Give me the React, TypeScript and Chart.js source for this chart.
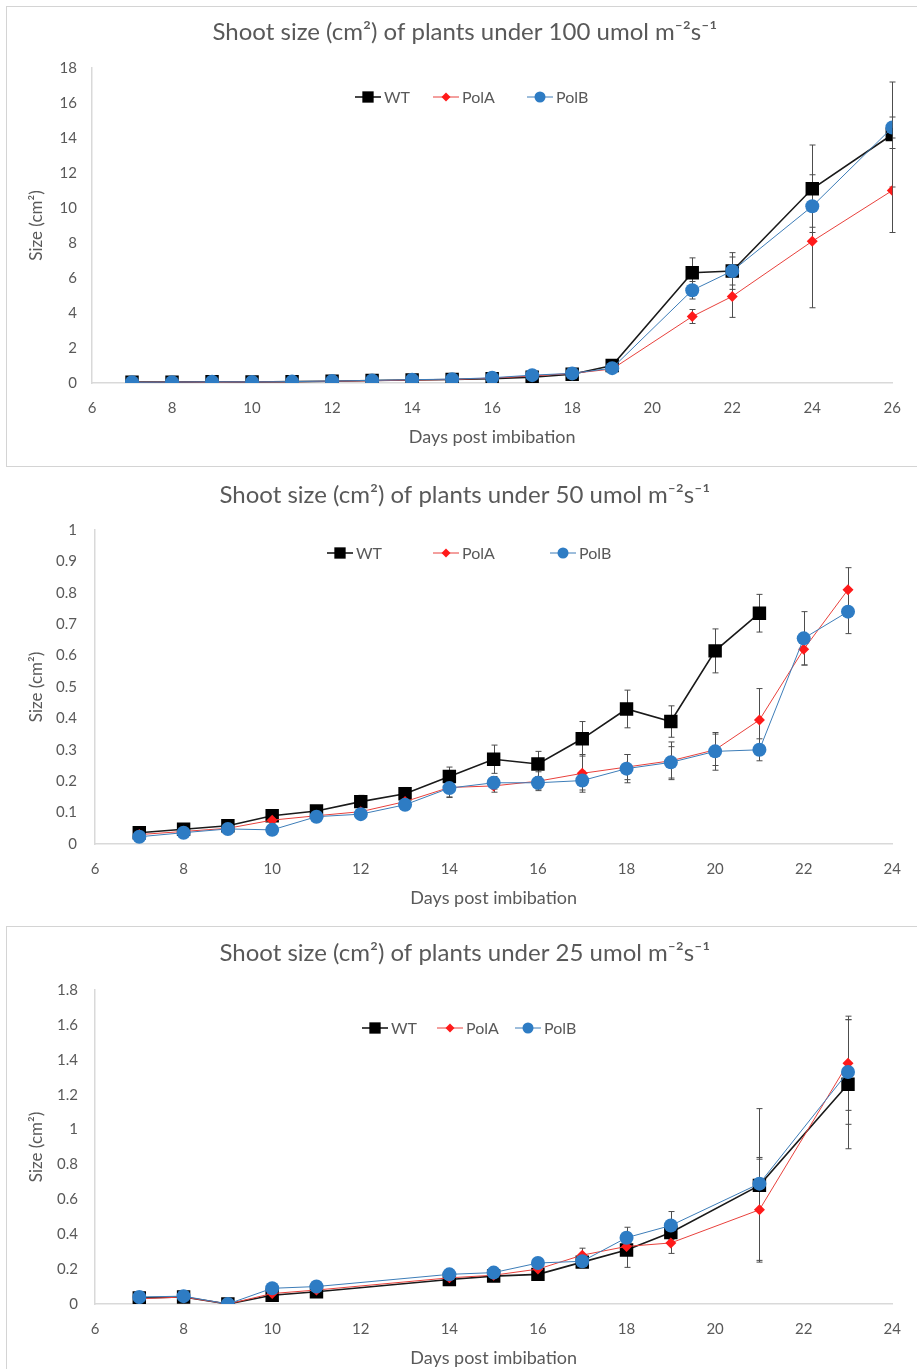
import React, { useEffect, useRef } from 'react';
import { Chart, registerables } from 'chart.js';

Chart.register(...registerables);

const FONT = 'Lato, "Open Sans", sans-serif';
const GRAY = '#595959';
const AXIS = '#d9d9d9';

const SERIES_LABELS = ['WT', 'PolA', 'PolB'];

// ---- Panel 1: 100 umol ----
const title100 = 'Shoot size (cm²) of plants under 100 umol m⁻²s⁻¹';
const days100 = [7, 8, 9, 10, 11, 12, 13, 14, 15, 16, 17, 18, 19, 21, 22, 24, 26];
const wt100 = [0.05, 0.05, 0.07, 0.06, 0.08, 0.1, 0.14, 0.17, 0.2, 0.25, 0.33, 0.5, 1.0, 6.3, 6.4, 11.1, 14.2];
const wt100Err = [0.01, 0.01, 0.01, 0.01, 0.01, 0.02, 0.02, 0.03, 0.03, 0.04, 0.05, 0.08, 0.15, 0.85, 1.05, 2.5, 3.0];
const polA100 = [0.04, 0.05, 0.06, 0.06, 0.07, 0.1, 0.13, 0.17, 0.2, 0.28, 0.4, 0.55, 0.8, 3.8, 4.95, 8.1, 11.0];
const polA100Err = [0.01, 0.01, 0.01, 0.01, 0.01, 0.02, 0.02, 0.03, 0.03, 0.04, 0.05, 0.08, 0.15, 0.4, 1.2, 3.8, 2.4];
const polB100 = [0.04, 0.05, 0.07, 0.06, 0.08, 0.11, 0.15, 0.19, 0.22, 0.3, 0.45, 0.55, 0.85, 5.3, 6.4, 10.1, 14.6];
const polB100Err = [0.01, 0.01, 0.01, 0.01, 0.01, 0.02, 0.02, 0.03, 0.03, 0.04, 0.05, 0.08, 0.1, 0.5, 0.8, 1.2, 0.6];
const xTicks100 = { min: 6, max: 26, step: 2 };
const yTicks100 = { min: 0, max: 18, step: 2 };

// ---- Panel 2: 50 umol ----
const title50 = 'Shoot size (cm²) of plants under 50 umol m⁻²s⁻¹';
const days50 = [7, 8, 9, 10, 11, 12, 13, 14, 15, 16, 17, 18, 19, 20, 21, 22, 23];
const wt50 = [0.036, 0.047, 0.058, 0.09, 0.105, 0.135, 0.16, 0.215, 0.27, 0.255, 0.335, 0.43, 0.39, 0.615, 0.735, null, null];
const wt50Err = [0.005, 0.005, 0.008, 0.01, 0.01, 0.02, 0.02, 0.03, 0.045, 0.04, 0.055, 0.06, 0.05, 0.07, 0.06, null, null];
const polA50 = [0.03, 0.04, 0.05, 0.076, 0.09, 0.103, 0.135, 0.18, 0.185, 0.2, 0.225, 0.245, 0.265, 0.3, 0.395, 0.62, 0.81];
const polA50Err = [0.005, 0.005, 0.008, 0.01, 0.01, 0.015, 0.015, 0.03, 0.02, 0.03, 0.06, 0.04, 0.06, 0.05, 0.1, 0.05, 0.07];
const polB50 = [0.023, 0.036, 0.048, 0.045, 0.087, 0.095, 0.125, 0.178, 0.195, 0.195, 0.202, 0.24, 0.26, 0.295, 0.3, 0.655, 0.74];
const polB50Err = [0.005, 0.005, 0.008, 0.01, 0.01, 0.015, 0.015, 0.03, 0.02, 0.02, 0.03, 0.045, 0.05, 0.06, 0.035, 0.085, 0.07];
const xTicks50 = { min: 6, max: 24, step: 2 };
const yTicks50 = { min: 0, max: 1, step: 0.1 };

// ---- Panel 3: 25 umol ----
const title25 = 'Shoot size (cm²) of plants under 25 umol m⁻²s⁻¹';
const days25 = [7, 8, 9, 10, 11, 14, 15, 16, 17, 18, 19, 21, 23];
const wt25 = [0.035, 0.04, 0.0, 0.05, 0.07, 0.14, 0.16, 0.17, 0.24, 0.31, 0.41, 0.68, 1.26];
const wt25Err = [0.005, 0.005, 0, 0.01, 0.01, 0.015, 0.02, 0.02, 0.03, 0.1, 0.05, 0.44, 0.37];
const polA25 = [0.03, 0.04, 0.0, 0.06, 0.08, 0.15, 0.165, 0.2, 0.28, 0.33, 0.35, 0.54, 1.38];
const polA25Err = [0.005, 0.005, 0, 0.01, 0.01, 0.02, 0.02, 0.02, 0.04, 0.03, 0.06, 0.29, 0.27];
const polB25 = [0.04, 0.045, 0.0, 0.09, 0.1, 0.17, 0.18, 0.235, 0.245, 0.38, 0.45, 0.69, 1.33];
const polB25Err = [0.005, 0.005, 0, 0.01, 0.01, 0.02, 0.02, 0.02, 0.03, 0.06, 0.08, 0.15, 0.3];
const xTicks25 = { min: 6, max: 24, step: 2 };
const yTicks25 = { min: 0, max: 1.8, step: 0.2 };

const STYLES = [
  { color: '#000000', line: '#1a1a1a', width: 1.6, style: 'rect', radius: 9.5, order: 3, legendR: 8 },
  { color: '#ff1a1a', line: '#e8413c', width: 1, style: 'rectRot', radius: 5.5, order: 2, legendR: 4.5 },
  { color: '#2e7cc4', line: '#3d7db8', width: 1, style: 'circle', radius: 7, order: 1, legendR: 5.5 },
];

function drawMarker(ctx: CanvasRenderingContext2D, style: string, x: number, y: number, r: number, color: string) {
  ctx.fillStyle = color;
  ctx.beginPath();
  if (style === 'rect') {
    const h = r * Math.SQRT1_2;
    ctx.rect(x - h, y - h, h * 2, h * 2);
  } else if (style === 'rectRot') {
    ctx.moveTo(x, y - r);
    ctx.lineTo(x + r, y);
    ctx.lineTo(x, y + r);
    ctx.lineTo(x - r, y);
    ctx.closePath();
  } else {
    ctx.arc(x, y, r, 0, Math.PI * 2);
  }
  ctx.fill();
}

const inlineLegend = {
  id: 'inlineLegend',
  afterDraw(chart: any, _args: any, opts: any) {
    const ctx: CanvasRenderingContext2D = chart.ctx;
    const y = opts.y;
    ctx.save();
    chart.data.datasets.forEach((ds: any, i: number) => {
      const st = STYLES[i];
      const x0 = opts.xs[i];
      const len = opts.lineLen;
      ctx.strokeStyle = st.line;
      ctx.lineWidth = st.width;
      ctx.beginPath();
      ctx.moveTo(x0, y);
      ctx.lineTo(x0 + len, y);
      ctx.stroke();
      drawMarker(ctx, st.style, x0 + len / 2, y, st.legendR, st.color);
      ctx.fillStyle = GRAY;
      ctx.font = `${opts.fontSize}px ${FONT}`;
      ctx.textBaseline = 'middle';
      ctx.textAlign = 'left';
      ctx.fillText(ds.label, x0 + len + 3, y + 1);
    });
    ctx.restore();
  },
};

const errorBars = {
  id: 'errorBars',
  beforeDatasetsDraw(chart: any) {
    const ctx: CanvasRenderingContext2D = chart.ctx;
    const xs = chart.scales.x;
    const ys = chart.scales.y;
    ctx.save();
    ctx.strokeStyle = '#4d4d4d';
    ctx.lineWidth = 1;
    chart.data.datasets.forEach((ds: any) => {
      ds.data.forEach((pt: any, j: number) => {
        const e = ds.errors[j];
        if (pt.y == null || !e) return;
        const px = Math.round(xs.getPixelForValue(pt.x)) + 0.5;
        const top = ys.getPixelForValue(pt.y + e);
        const bot = ys.getPixelForValue(Math.max(pt.y - e, ys.min));
        ctx.beginPath();
        ctx.moveTo(px, top);
        ctx.lineTo(px, bot);
        ctx.moveTo(px - 3, top);
        ctx.lineTo(px + 3, top);
        ctx.moveTo(px - 3, bot);
        ctx.lineTo(px + 3, bot);
        ctx.stroke();
      });
    });
    ctx.restore();
  },
};

type Panel = {
  title: string;
  days: number[];
  series: (number | null)[][];
  errors: (number | null)[][];
  xT: { min: number; max: number; step: number };
  yT: { min: number; max: number; step: number };
  canvasH: number;
  titleCenter: number;
  plotTop: number;
  plotBottom: number;
  plotLeft: number;
  tickPadY: number;
  legendY: number;
  legendXs: number[];
  decimals: number;
};

function buildConfig(p: Panel): any {
  const titleFont = 24;
  const titleLH = titleFont * 1.2;
  const padTop = p.titleCenter - titleLH / 2;
  const padBottom = p.plotTop - padTop - titleLH;
  const yTitleFont = 17;
  const leftPad = 37 - (yTitleFont * 1.2) / 2;
  const xTitleFont = 18;
  const xH = 54 + (xTitleFont * 1.2) / 2;
  const layoutBottom = p.canvasH - p.plotBottom - xH;
  const datasets = p.series.map((vals, i) => ({
    label: SERIES_LABELS[i],
    data: p.days.map((d, j) => ({ x: d, y: vals[j] })),
    errors: p.errors[i],
    borderColor: STYLES[i].line,
    borderWidth: STYLES[i].width,
    backgroundColor: STYLES[i].color,
    pointBackgroundColor: STYLES[i].color,
    pointBorderColor: STYLES[i].color,
    pointBorderWidth: 0,
    pointStyle: STYLES[i].style,
    pointRadius: STYLES[i].radius,
    order: STYLES[i].order,
    spanGaps: false,
  }));
  return {
    type: 'line',
    data: { datasets },
    options: {
      responsive: false,
      animation: false,
      events: [],
      layout: { padding: { left: leftPad, right: 917 - 903, top: 0, bottom: layoutBottom } },
      plugins: {
        legend: { display: false },
        tooltip: { enabled: false },
        title: {
          display: true,
          text: p.title,
          color: GRAY,
          font: { family: FONT, size: titleFont, weight: 'normal' },
          padding: { top: padTop, bottom: padBottom },
        },
        inlineLegend: { y: p.legendY, xs: p.legendXs, lineLen: 26, fontSize: 16 },
      },
      scales: {
        x: {
          type: 'linear',
          min: p.xT.min,
          max: p.xT.max,
          afterFit: (s: any) => { s.height = xH; },
          ticks: { stepSize: p.xT.step, color: GRAY, font: { family: FONT, size: 15 }, padding: 16 },
          grid: { display: false, drawTicks: false },
          border: { display: true, color: AXIS, width: 1.5 },
          title: { display: true, text: 'Days post imbibation', color: GRAY, font: { family: FONT, size: xTitleFont }, padding: { top: 0, bottom: 0 } },
        },
        y: {
          min: p.yT.min,
          max: p.yT.max,
          afterFit: (s: any) => { s.width = p.plotLeft - leftPad; },
          ticks: {
            stepSize: p.yT.step,
            color: GRAY,
            font: { family: FONT, size: 15 },
            padding: p.tickPadY,
            callback: (v: number) => String(Number(Number(v).toFixed(p.decimals))),
          },
          grid: { display: false, drawTicks: false },
          border: { display: true, color: AXIS, width: 1.5 },
          title: { display: true, text: 'Size (cm²)', color: GRAY, font: { family: FONT, size: yTitleFont }, padding: { top: 0, bottom: 0 } },
        },
      },
    },
    plugins: [errorBars, inlineLegend],
  };
}

const panels: Panel[] = [
  {
    title: title100, days: days100,
    series: [wt100, polA100, polB100], errors: [wt100Err, polA100Err, polB100Err],
    xT: xTicks100, yT: yTicks100,
    canvasH: 466, titleCenter: 32, plotTop: 68, plotBottom: 383, plotLeft: 92, tickPadY: 15,
    legendY: 97, legendXs: [355, 433, 527], decimals: 0,
  },
  {
    title: title50, days: days50,
    series: [wt50, polA50, polB50], errors: [wt50Err, polA50Err, polB50Err],
    xT: xTicks50, yT: yTicks50,
    canvasH: 460, titleCenter: 29, plotTop: 64, plotBottom: 378, plotLeft: 95, tickPadY: 18,
    legendY: 87, legendXs: [327, 433, 550], decimals: 1,
  },
  {
    title: title25, days: days25,
    series: [wt25, polA25, polB25], errors: [wt25Err, polA25Err, polB25Err],
    xT: xTicks25, yT: yTicks25,
    canvasH: 443, titleCenter: 27, plotTop: 64, plotBottom: 378, plotLeft: 95, tickPadY: 17,
    legendY: 102, legendXs: [362, 437, 515], decimals: 1,
  },
];

const TOPS = [0, 466, 926];

function ChartPanel({ panel }: { panel: Panel }) {
  const ref = useRef<HTMLCanvasElement | null>(null);
  useEffect(() => {
    if (!ref.current) return;
    const chart = new Chart(ref.current, buildConfig(panel));
    return () => chart.destroy();
  }, [panel]);
  return <canvas ref={ref} width={917} height={panel.canvasH} style={{ display: 'block', width: 917, height: panel.canvasH }} />;
}

export default function App() {
  return (
    <div style={{ position: 'absolute', left: 0, top: 0, width: 917, height: 1369, background: '#fff', overflow: 'hidden' }}>
      <div style={{ position: 'absolute', left: 6, top: 6, width: 920, height: 459, border: '1px solid #d4d4d4' }} />
      <div style={{ position: 'absolute', left: 6, top: 926, width: 920, height: 450, border: '1px solid #d4d4d4' }} />
      {panels.map((p, i) => (
        <div key={i} style={{ position: 'absolute', left: 0, top: TOPS[i], width: 917, height: p.canvasH }}>
          <ChartPanel panel={p} />
        </div>
      ))}
    </div>
  );
}
